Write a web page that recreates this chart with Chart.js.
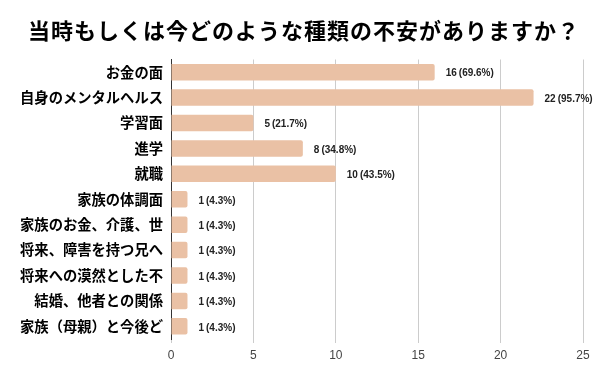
<!DOCTYPE html>
<html>
<head>
<meta charset="utf-8">
<script src="https://cdn.jsdelivr.net/npm/chart.js@4"></script>
<style>
html,body{margin:0;padding:0;background:#fff;}
#wrap{width:600px;height:371px;position:relative;}
</style>
</head>
<body>
<div id="wrap"><canvas id="c" width="600" height="371"></canvas></div>
<script>
const titleText = "当時もしくは今どのような種類の不安がありますか？";
const categories = ["お金の面","自身のメンタルヘルス","学習面","進学","就職","家族の体調面","家族のお金、介護、世","将来、障害を持つ兄へ","将来への漠然とした不","結婚、他者との関係","家族（母親）と今後ど"];
const counts = [16,22,5,8,10,1,1,1,1,1,1];
const percents = ["69.6","95.7","21.7","34.8","43.5","4.3","4.3","4.3","4.3","4.3","4.3"];
const xTicks = [0,5,10,15,20,25];

const JP = "'Noto Sans CJK JP','Noto Sans',sans-serif";
const NUM = "'Liberation Sans','Noto Sans CJK JP',sans-serif";

const titlePlugin = {
  id:'titlePlugin',
  afterDraw(chart){
    const ctx = chart.ctx;
    ctx.save();
    ctx.font = "bold 22px " + JP;
    ctx.fillStyle = "#000";
    ctx.textAlign = "center";
    ctx.textBaseline = "middle";
    try { ctx.letterSpacing = "1px"; } catch(e) {}
    ctx.fillText(titleText, 304, 31);
    ctx.restore();
  }
};

const valueLabels = {
  id:'valueLabels',
  afterDatasetsDraw(chart){
    const ctx = chart.ctx;
    const meta = chart.getDatasetMeta(0);
    ctx.save();
    ctx.font = "bold 10px " + NUM;
    ctx.fillStyle = "#222";
    ctx.textAlign = "left";
    ctx.textBaseline = "middle";
    meta.data.forEach((bar,i)=>{
      ctx.fillText(counts[i] + "\u2009(" + percents[i] + "%)", bar.x + 11, bar.y + 1.5);
    });
    ctx.restore();
  }
};

new Chart(document.getElementById('c'), {
  type:'bar',
  data:{
    labels:categories,
    datasets:[{
      data:counts,
      backgroundColor:'#EAC1A5',
      borderRadius:2,
      barPercentage:0.65,
      categoryPercentage:1.0
    }]
  },
  options:{
    indexAxis:'y',
    responsive:false,
    animation:false,
    devicePixelRatio:1,
    layout:{padding:{left:0,right:17,top:59.5,bottom:0}},
    plugins:{
      legend:{display:false},
      tooltip:{enabled:false},
      title:{display:false}
    },
    scales:{
      x:{
        min:0,max:25,
        afterBuildTicks(scale){ scale.ticks = xTicks.map(v=>({value:v})); },
        afterFit(scale){ scale.height = 32; },
        grid:{color:'#CCCCCC',drawTicks:true,tickLength:4,lineWidth:1},
        border:{display:false},
        ticks:{color:'#444',font:{family:NUM,size:12},padding:5,maxRotation:0}
      },
      y:{
        afterFit(scale){ scale.width = 171; },
        grid:{display:false,drawTicks:false},
        border:{display:true,color:'#333',width:1},
        ticks:{color:'#000',font:{family:JP,size:14.3,weight:'bold'},padding:8,autoSkip:false}
      }
    }
  },
  plugins:[valueLabels,titlePlugin]
});
</script>
</body>
</html>
